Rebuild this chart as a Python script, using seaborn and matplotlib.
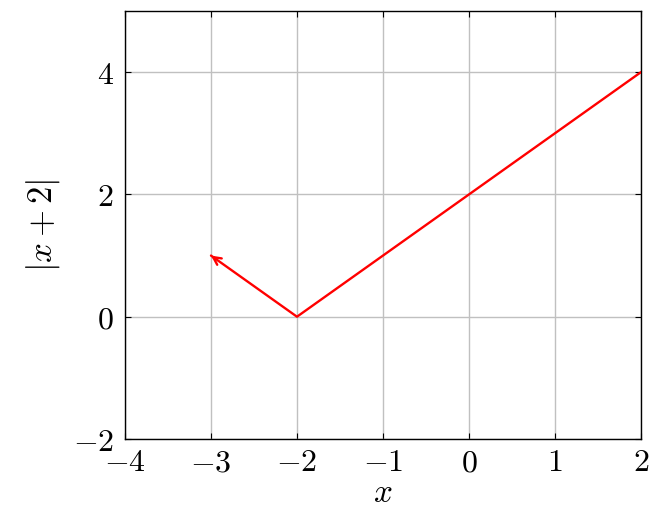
import numpy as np
import pandas as pd
import matplotlib
matplotlib.use("Agg")
import matplotlib.pyplot as plt
import seaborn as sns

# data: |x+2| with an arrow at the left end
x_vals = [-3, -2, 2]
y_vals = [1, 0, 4]
x_ticks = [-4, -3, -2, -1, 0, 1, 2]
y_ticks = [-2, 0, 2, 4]

sns.set_style("white")
plt.rcParams["mathtext.fontset"] = "cm"
plt.rcParams["font.family"] = ["DejaVu Serif"]
plt.rcParams["text.color"] = "black"
plt.rcParams["axes.labelcolor"] = "black"
plt.rcParams["xtick.color"] = "black"
plt.rcParams["ytick.color"] = "black"

df = pd.DataFrame({"x": x_vals, "y": y_vals})

fig = plt.figure(figsize=(6.53, 5.11), dpi=100)
ax = fig.add_axes([0.1914, 0.1409, 0.7902, 0.8376])

sns.lineplot(data=df, x="x", y="y", sort=False, color="red", linewidth=1.7,
             ax=ax, zorder=3)
# arrow head at the left end of the line
ax.annotate("", xy=(x_vals[0], y_vals[0]),
            xytext=(x_vals[0] + 0.05, y_vals[0] - 0.05),
            arrowprops=dict(arrowstyle="->", color="red", lw=1.7,
                            mutation_scale=14, shrinkA=0, shrinkB=0),
            zorder=4)

ax.set_xlim(-4, 2)
ax.set_ylim(-2, 5)
ax.set_xticks(x_ticks)
ax.set_yticks(y_ticks)
ax.set_xticklabels([f"${v}$" for v in x_ticks])
ax.set_yticklabels([f"${v}$" for v in y_ticks])
ax.grid(True, color="#c0c0c0", linewidth=1.0)
ax.set_axisbelow(True)
ax.tick_params(direction="in", length=4, width=0.8, labelsize=23, pad=8,
               top=True, right=True, bottom=True, left=True,
               labeltop=False, labelright=False)
ax.tick_params(axis="x", pad=6)
for s in ax.spines.values():
    s.set_color("black")
    s.set_linewidth(1.0)

ax.set_xlabel("$x$", fontsize=24, labelpad=-1)
ax.set_ylabel("$|x+2|$", fontsize=25, labelpad=8)

fig.savefig("out.png", dpi=100)
